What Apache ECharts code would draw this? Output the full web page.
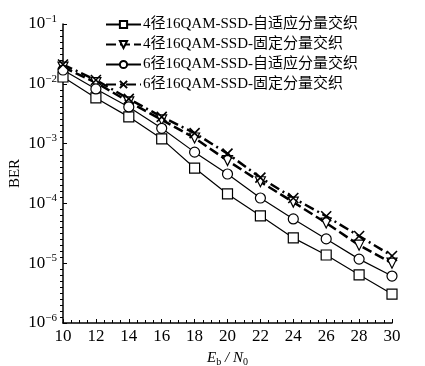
<!DOCTYPE html>
<html><head><meta charset="utf-8">
<script src="https://cdn.jsdelivr.net/npm/echarts@6/dist/echarts.min.js"></script>
<style>html,body{margin:0;padding:0;background:#fff}#c{width:425px;height:366px}</style>
</head><body><div id="c"></div>
<script>
const snr = [10, 12, 14, 16, 18, 20, 22, 24, 26, 28, 30];
const names = ['4径16QAM-SSD-自适应分量交织','4径16QAM-SSD-固定分量交织','6径16QAM-SSD-自适应分量交织','6径16QAM-SSD-固定分量交织'];
const ber4Adaptive = [0.013, 0.0058, 0.0028, 0.0012, 3.9e-4, 1.44e-4, 6.2e-5, 2.65e-5, 1.37e-5, 6.4e-6, 3.05e-6];
const ber4Fixed    = [0.019, 0.0105, 0.005, 0.0025, 1.24e-3, 5.2e-4, 2.3e-4, 1.05e-4, 4.7e-5, 2.0e-5, 1.0e-5];
const ber6Adaptive = [0.017, 0.0082, 0.0041, 0.0018, 7.2e-4, 3.1e-4, 1.23e-4, 5.5e-5, 2.55e-5, 1.17e-5, 6.1e-6];
const ber6Fixed    = [0.021, 0.0116, 0.0056, 0.0028, 1.5e-3, 6.8e-4, 2.7e-4, 1.23e-4, 6.1e-5, 2.85e-5, 1.32e-5];

const serif = '"Liberation Serif", "Noto Sans CJK SC", serif';
const pair = arr => snr.map((x, i) => [x, arr[i]]);
const xPath = 'path://M0,0L10,10M10,0L0,10';

const chart = echarts.init(document.getElementById('c'), null, {renderer: 'canvas'});
function mk(name, data, symbol, size, lineType, width) {
  return {
    name, type: 'line', data: pair(data), symbol, symbolSize: size,
    showAllSymbol: true, z: 3,
    lineStyle: {color: '#000', width, type: lineType},
    itemStyle: {color: '#fff', borderColor: '#000', borderWidth: 1.2},
    emphasis: {disabled: true}
  };
}
const s2 = mk(names[1], ber4Fixed, 'triangle', 10, [10, 4], 2.5);
s2.symbolRotate = 180;
const s4 = mk(names[3], ber6Fixed, xPath, 10, [10, 4, 2, 4], 2.5);
s4.itemStyle = {color: 'none', borderColor: '#000', borderWidth: 1.6};
chart.setOption({
  animation: false,
  backgroundColor: '#fff',
  grid: {left: 63, right: 33, top: 24, bottom: 43, containLabel: false, outerBoundsMode: 'none'},
  legend: {
    left: 100, top: 12, orient: 'vertical', itemGap: 5, itemWidth: 35, itemHeight: 9,
    textStyle: {fontFamily: serif, fontSize: 15, color: '#000', padding: [0, 0, 0, -3]},
    data: names
  },
  xAxis: {
    type: 'value', min: 10, max: 30, interval: 2,
    axisLine: {lineStyle: {color: '#000', width: 1.5}},
    axisTick: {inside: true, length: 4, lineStyle: {color: '#000'}},
    minorTick: {show: true, splitNumber: 4, length: 3, lineStyle: {color: '#000'}},
    splitLine: {show: false},
    axisLabel: {fontFamily: serif, fontSize: 17, color: '#000', margin: 5},
    name: '{i|E}{s|b}{i| / N}{s|0}', nameLocation: 'middle', nameGap: 26, nameMoveOverlap: false,
    nameTextStyle: {
      rich: {
        i: {fontFamily: serif, fontStyle: 'italic', fontSize: 15, color: '#000'},
        s: {fontFamily: serif, fontSize: 10, color: '#000', padding: [8, 0, 0, 0]}
      }
    }
  },
  yAxis: [{
    type: 'log', logBase: 10, min: 1e-6, max: 1e-1,
    axisLine: {show: true, lineStyle: {color: '#000', width: 1.5}},
    axisTick: {show: true, inside: true, length: 4, lineStyle: {color: '#000'}},
    splitLine: {show: false},
    axisLabel: {
      margin: 6, color: '#000',
      formatter: v => '{b|10}{s|' + Math.round(Math.log10(v)).toString().replace('-', '−') + '}',
      rich: {
        b: {fontFamily: serif, fontSize: 17, color: '#000'},
        s: {fontFamily: serif, fontSize: 11, color: '#000', padding: [0, 0, 10, 0]}
      }
    },
    name: 'BER', nameLocation: 'middle', nameGap: 40, nameMoveOverlap: false,
    nameTextStyle: {fontFamily: serif, fontSize: 15, color: '#000'}
  }, {
    type: 'value', position: 'left', min: -6, max: -1, interval: 1,
    axisLine: {show: false},
    axisTick: {show: false},
    axisLabel: {show: false},
    splitLine: {show: false},
    minorTick: {show: true, splitNumber: 10, length: 3, lineStyle: {color: '#000'}}
  }],
  series: [
    mk(names[0], ber4Adaptive, 'rect', 10, 'solid', 1.2),
    s2,
    mk(names[2], ber6Adaptive, 'circle', 10, 'solid', 1.2),
    s4
  ]
});
</script></body></html>
